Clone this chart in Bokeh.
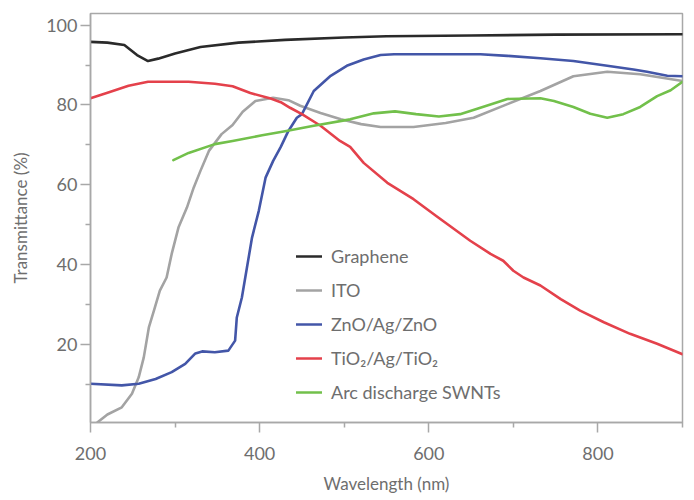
from bokeh.plotting import figure
from bokeh.models import Range1d, FixedTicker, Legend, LegendItem
from bokeh.embed import file_html
from bokeh.resources import INLINE

# ---- data ----
graphene_x = [200, 220, 240, 255, 268, 280, 300, 330, 375, 430, 500, 550, 650, 750, 900]
graphene_y = [95.8, 95.6, 95.0, 92.5, 91.0, 91.6, 92.9, 94.5, 95.6, 96.3, 96.9, 97.2, 97.4, 97.6, 97.7]

ito_x = [208, 220, 237, 249, 257, 263, 269, 275, 282, 290, 296, 304, 314, 322, 330, 340, 355,
         368, 380, 395, 416, 434, 448, 472, 496, 520, 543, 582, 620, 653, 693, 732, 771, 811, 850, 900]
ito_y = [0.5, 2.5, 4.3, 7.7, 11.8, 16.8, 24.3, 28.5, 33.5, 36.8, 42.7, 49.3, 54.3, 59.3, 63.5, 68.5, 72.7,
         75.0, 78.3, 81.0, 81.8, 81.2, 79.8, 78.0, 76.4, 75.2, 74.5, 74.5, 75.5, 76.8, 80.2, 83.5, 87.2, 88.3, 87.7, 86.0]

zno_x = [200, 237, 257, 277, 296, 312, 324, 332, 347, 363, 371, 373, 379, 385, 391, 399, 407, 416,
         425, 434, 444, 450, 464, 484, 503, 523, 543, 559, 613, 661, 693, 732, 771, 811, 842, 858, 882, 900]
zno_y = [10.2, 9.8, 10.2, 11.4, 13.1, 15.2, 17.8, 18.3, 18.1, 18.5, 21.0, 26.8, 31.8, 39.3, 46.8, 53.5, 61.8, 66.0,
         69.5, 73.5, 76.8, 77.7, 83.5, 87.3, 89.8, 91.4, 92.5, 92.7, 92.7, 92.7, 92.3, 91.7, 91.0, 89.8, 88.9, 88.3, 87.3, 87.2]

tio2_x = [200, 221, 245, 268, 316, 347, 368, 389, 413, 425, 436, 450, 472, 495, 507, 523, 551, 582, 610,
          649, 673, 688, 700, 712, 732, 756, 779, 807, 838, 870, 900]
tio2_y = [81.7, 83.1, 84.8, 85.8, 85.8, 85.3, 84.7, 83.0, 81.6, 80.7, 79.3, 77.7, 74.8, 71.0, 69.5, 65.5, 60.5, 56.4, 52.0,
          46.0, 42.7, 41.0, 38.5, 36.8, 34.8, 31.4, 28.5, 25.6, 22.7, 20.2, 17.6]

swnt_x = [298, 316, 347, 368, 403, 430, 464, 507, 535, 560, 585, 612, 637, 661, 693, 732, 748, 771,
          791, 811, 830, 850, 870, 886, 900]
swnt_y = [66.2, 68.0, 70.2, 71.0, 72.4, 73.4, 74.8, 76.4, 77.9, 78.4, 77.7, 77.1, 77.7, 79.3, 81.5, 81.7, 81.0, 79.5,
          77.8, 76.8, 77.7, 79.5, 82.2, 83.7, 85.8]

series_labels = ["Graphene", "ITO", "ZnO/Ag/ZnO", "TiO\u2082/Ag/TiO\u2082", "Arc discharge SWNTs"]
x_major = [200, 400, 600, 800]
x_minor = [300, 500, 700, 900]
y_major = [20, 40, 60, 80, 100]
y_minor = [10, 30, 50, 70, 90]

FONT = "Lato"
TXT = "#6e6e6e"
AX = "#a8a8a8"

p = figure(width=684, height=498, output_backend="svg", toolbar_location=None,
           x_range=Range1d(200, 900), y_range=Range1d(0.5, 102.9),
           min_border_left=90, min_border_right=2, min_border_top=13, min_border_bottom=76)
p.grid.visible = False
p.background_fill_color = "white"
p.border_fill_color = "white"
p.outline_line_color = AX
p.outline_line_width = 1.5

p.xaxis.ticker = FixedTicker(ticks=x_major, minor_ticks=x_minor)
p.yaxis.ticker = FixedTicker(ticks=y_major, minor_ticks=y_minor)
for ax in (p.xaxis, p.yaxis):
    ax.axis_line_color = AX
    ax.axis_line_width = 1.5
    ax.major_tick_line_color = AX
    ax.minor_tick_line_color = AX
    ax.major_tick_line_width = 1.5
    ax.minor_tick_line_width = 1.5
    ax.major_tick_in = 0
    ax.major_tick_out = 10
    ax.minor_tick_in = 0
    ax.minor_tick_out = 5
    ax.major_label_text_font = FONT
    ax.major_label_text_font_size = "18px"
    ax.major_label_text_color = TXT
    ax.axis_label_text_font = FONT
    ax.axis_label_text_font_size = "17px"
    ax.axis_label_text_color = TXT
    ax.axis_label_text_font_style = "normal"
p.xaxis.axis_label = "Wavelength (nm)"
p.yaxis.axis_label = "Transmittance (%)"
p.xaxis.major_label_standoff = 14
p.yaxis.major_label_standoff = 3
p.xaxis.axis_label_standoff = 10
p.yaxis.axis_label_standoff = 12

colors = ["#2a2a2a", "#a3a3a3", "#4356a8", "#e4414b", "#72c04b"]
data = [(graphene_x, graphene_y), (ito_x, ito_y), (zno_x, zno_y), (tio2_x, tio2_y), (swnt_x, swnt_y)]
renderers = []
for (xs, ys), c in zip(data, colors):
    r = p.line(xs, ys, line_color=c, line_width=2.6, line_join="round", line_cap="round")
    renderers.append(r)

legend = Legend(items=[LegendItem(label=l, renderers=[r]) for l, r in zip(series_labels, renderers)],
                location=(206, 19), orientation="vertical",
                glyph_width=26, glyph_height=20, label_height=20, spacing=12,
                label_standoff=9, padding=0, margin=0,
                border_line_color=None, background_fill_alpha=0,
                label_text_font=FONT, label_text_font_size="18px", label_text_color=TXT)
p.add_layout(legend)

open("out.html", "w").write(file_html(p, INLINE))
